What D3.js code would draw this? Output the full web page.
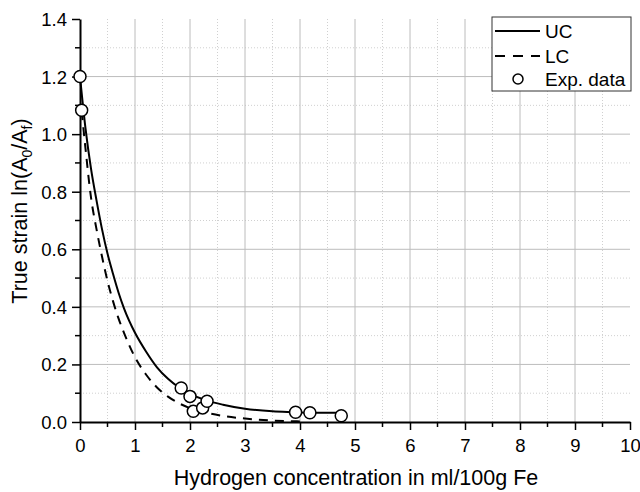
<!DOCTYPE html>
<html>
<head>
<meta charset="utf-8">
<script src="https://cdn.jsdelivr.net/npm/d3@7"></script>
<style>
  html, body { margin: 0; padding: 0; background: #fff; }
  svg { display: block; font-family: "Liberation Sans", Arial, sans-serif; }
</style>
</head>
<body>
<svg id="chart" width="640" height="492"></svg>
<script>
// Upper bound curve (UC)
const ucX = [0, 0.1, 0.2, 0.3, 0.4, 0.5, 0.6, 0.7, 0.8, 1.0, 1.2, 1.4, 1.6, 1.8, 2.0, 2.3, 2.6, 3.0, 3.5, 3.93, 4.18, 4.7];
const ucY = [1.2, 1.02, 0.88, 0.77, 0.67, 0.585, 0.515, 0.45, 0.395, 0.31, 0.245, 0.19, 0.15, 0.12, 0.098, 0.075, 0.06, 0.046, 0.037, 0.034, 0.032, 0.032];

// Lower bound curve (LC)
const lcX = [0.03, 0.1, 0.2, 0.3, 0.4, 0.5, 0.6, 0.7, 0.8, 1.0, 1.2, 1.4, 1.6, 1.8, 2.0, 2.3, 2.6, 3.0, 3.5, 4.0];
const lcY = [1.08, 0.95, 0.78, 0.67, 0.575, 0.49, 0.42, 0.36, 0.31, 0.225, 0.165, 0.12, 0.088, 0.065, 0.048, 0.032, 0.021, 0.012, 0.005, 0.002];

// Experimental data
const expX = [0, 0.03, 1.84, 2.0, 2.06, 2.23, 2.31, 3.92, 4.18, 4.75];
const expY = [1.2, 1.083, 0.118, 0.089, 0.037, 0.049, 0.072, 0.034, 0.032, 0.022];

// Axis ticks
const xTicks = [0, 1, 2, 3, 4, 5, 6, 7, 8, 9, 10];
const xMinor = [0.5, 1.5, 2.5, 3.5, 4.5, 5.5, 6.5, 7.5, 8.5, 9.5];
const yTicks = [0, 0.2, 0.4, 0.6, 0.8, 1.0, 1.2, 1.4];
const yMinor = [0.1, 0.3, 0.5, 0.7, 0.9, 1.1, 1.3];

const legendLabels = ["UC", "LC", "Exp. data"];

const svg = d3.select("#chart");
const mLeft = 80, mRight = 630, mTop = 19, mBottom = 422;

const x = d3.scaleLinear().domain([0, 10]).range([mLeft, mRight]);
const y = d3.scaleLinear().domain([0, 1.4]).range([mBottom, mTop]);

// Grid
const grid = svg.append("g");
grid.selectAll(".gxm").data(xMinor).join("line")
  .attr("x1", d => x(d)).attr("x2", d => x(d)).attr("y1", mTop).attr("y2", mBottom)
  .attr("stroke", "#d0d0d0").attr("stroke-width", 1).attr("stroke-dasharray", "1,2");
grid.selectAll(".gym").data(yMinor).join("line")
  .attr("y1", d => y(d)).attr("y2", d => y(d)).attr("x1", mLeft).attr("x2", mRight)
  .attr("stroke", "#d0d0d0").attr("stroke-width", 1).attr("stroke-dasharray", "1,2");
grid.selectAll(".gx").data(xTicks.filter(d => d > 0 && d < 10)).join("line")
  .attr("x1", d => x(d)).attr("x2", d => x(d)).attr("y1", mTop).attr("y2", mBottom)
  .attr("stroke", "#bcbcbc").attr("stroke-width", 1);
grid.selectAll(".gy").data(yTicks.filter(d => d > 0 && d < 1.4)).join("line")
  .attr("y1", d => y(d)).attr("y2", d => y(d)).attr("x1", mLeft).attr("x2", mRight)
  .attr("stroke", "#bcbcbc").attr("stroke-width", 1);

// Curves
const line = d3.line().x(d => x(d[0])).y(d => y(d[1])).curve(d3.curveMonotoneX);
const uc = ucX.map((v, i) => [v, ucY[i]]);
const lc = lcX.map((v, i) => [v, lcY[i]]);

svg.append("path").attr("d", line(lc)).attr("fill", "none")
  .attr("stroke", "#000").attr("stroke-width", 2).attr("stroke-dasharray", "9,7");
svg.append("path").attr("d", line(uc)).attr("fill", "none")
  .attr("stroke", "#000").attr("stroke-width", 2);

// Axes
const xAxis = d3.axisBottom(x).tickValues(xTicks).tickSize(8).tickSizeOuter(0).tickFormat(d3.format("d"));
const gx = svg.append("g").attr("transform", `translate(0,${mBottom})`).call(xAxis);
gx.selectAll(".minor").data(xMinor).join("line").attr("class", "minor")
  .attr("x1", d => x(d)).attr("x2", d => x(d)).attr("y1", 0).attr("y2", 5)
  .attr("stroke", "#000").attr("stroke-width", 1.5);

const yAxis = d3.axisLeft(y).tickValues(yTicks).tickSize(8).tickSizeOuter(0).tickFormat(d3.format(".1f"));
const gy = svg.append("g").attr("transform", `translate(${mLeft},0)`).call(yAxis);
gy.selectAll(".minor").data(yMinor).join("line").attr("class", "minor")
  .attr("y1", d => y(d)).attr("y2", d => y(d)).attr("x1", 0).attr("x2", -5)
  .attr("stroke", "#000").attr("stroke-width", 1.5);

[gx, gy].forEach(g => {
  g.select(".domain").attr("stroke", "#000").attr("stroke-width", 2);
  g.selectAll(".tick line").attr("stroke", "#000").attr("stroke-width", 1.5);
  g.selectAll(".tick text").attr("fill", "#000")
    .style("font-family", "'Liberation Sans', Arial, sans-serif").style("font-size", "18.5px");
});
gx.selectAll(".tick text").attr("y", 30).attr("dy", 0);
gy.selectAll(".tick text").attr("x", -13).attr("dy", "0.35em");

// Data points
svg.append("g").selectAll("circle").data(expX.map((v, i) => [v, expY[i]])).join("circle")
  .attr("cx", d => x(d[0])).attr("cy", d => y(d[1])).attr("r", 6)
  .attr("fill", "#fff").attr("stroke", "#000").attr("stroke-width", 1.5);

// Axis titles
svg.append("text").attr("x", 356).attr("y", 485).attr("text-anchor", "middle")
  .style("font-size", "21.5px").text("Hydrogen concentration in ml/100g Fe");

const yt = svg.append("text").attr("transform", "translate(27,211) rotate(-90)")
  .attr("text-anchor", "middle").style("font-size", "21.5px");
yt.append("tspan").text("True strain ln(A");
yt.append("tspan").attr("dy", 5).style("font-size", "14px").text("0");
yt.append("tspan").attr("dy", -5).text("/A");
yt.append("tspan").attr("dy", 5).style("font-size", "14px").text("f");
yt.append("tspan").attr("dy", -5).text(")");

// Legend
const lg = svg.append("g");
lg.append("rect").attr("x", 492).attr("y", 17).attr("width", 139).attr("height", 74)
  .attr("fill", "#fff").attr("stroke", "#333").attr("stroke-width", 1);
const rows = [31, 56, 79];
lg.append("line").attr("x1", 495).attr("x2", 540).attr("y1", rows[0]).attr("y2", rows[0])
  .attr("stroke", "#000").attr("stroke-width", 2);
lg.append("line").attr("x1", 495).attr("x2", 540).attr("y1", rows[1]).attr("y2", rows[1])
  .attr("stroke", "#000").attr("stroke-width", 2).attr("stroke-dasharray", "10,8");
lg.append("circle").attr("cx", 518).attr("cy", rows[2]).attr("r", 5)
  .attr("fill", "#fff").attr("stroke", "#000").attr("stroke-width", 1.5);
lg.selectAll("text").data(legendLabels).join("text")
  .attr("x", 545).attr("y", (d, i) => rows[i]).attr("dy", "0.36em")
  .style("font-size", "19px").text(d => d);
</script>
</body>
</html>
